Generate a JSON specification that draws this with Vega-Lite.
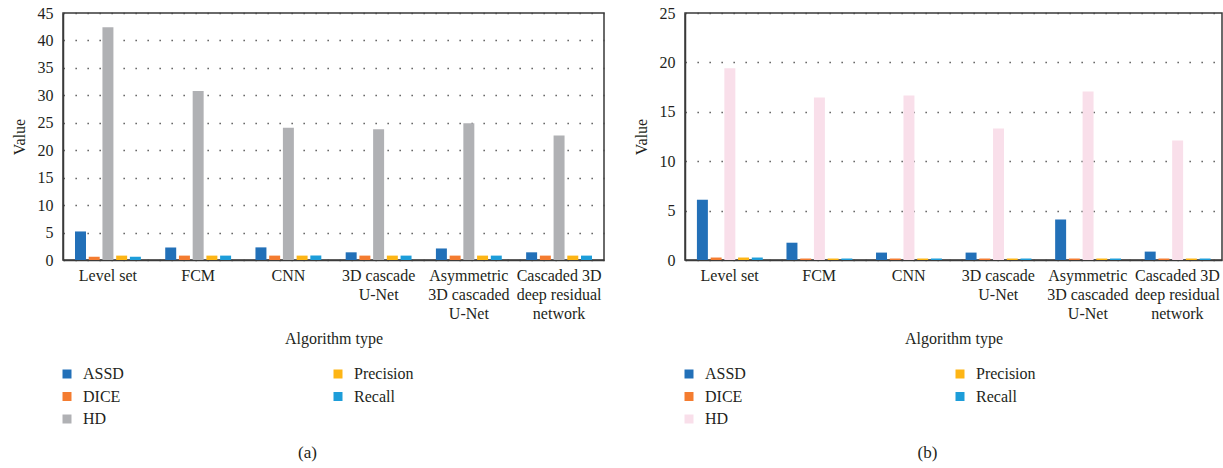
{
  "$schema": "https://vega.github.io/schema/vega-lite/v6.json",
  "autosize": {"type": "pad"},
  "padding": {"left": 10, "top": 4, "right": 0, "bottom": 0},
  "background": "white",
  "config": {
    "font": "Liberation Serif",
    "view": {"stroke": "#3a3a3a", "strokeWidth": 1.5},
    "concat": {"spacing": 27},
    "axis": {
      "labelFont": "Liberation Serif",
      "titleFont": "Liberation Serif",
      "labelFontSize": 16,
      "titleFontSize": 16,
      "labelColor": "#231f20",
      "titleColor": "#231f20",
      "titleFontWeight": "normal",
      "ticks": false,
      "domainColor": "#3a3a3a",
      "domainWidth": 1.5
    },
    "legend": {
      "labelFont": "Liberation Serif",
      "labelFontSize": 16,
      "labelColor": "#231f20"
    },
    "title": {"font": "Liberation Serif", "fontSize": 17, "fontWeight": "normal", "color": "#231f20"}
  },
  "datasets": {
    "a": [
      {"algorithm": "Level set", "metric": "ASSD", "value": 5.2},
      {"algorithm": "Level set", "metric": "DICE", "value": 0.6},
      {"algorithm": "Level set", "metric": "HD", "value": 42.4},
      {"algorithm": "Level set", "metric": "Precision", "value": 0.8},
      {"algorithm": "Level set", "metric": "Recall", "value": 0.6},
      {"algorithm": "FCM", "metric": "ASSD", "value": 2.3},
      {"algorithm": "FCM", "metric": "DICE", "value": 0.8},
      {"algorithm": "FCM", "metric": "HD", "value": 30.8},
      {"algorithm": "FCM", "metric": "Precision", "value": 0.8},
      {"algorithm": "FCM", "metric": "Recall", "value": 0.8},
      {"algorithm": "CNN", "metric": "ASSD", "value": 2.3},
      {"algorithm": "CNN", "metric": "DICE", "value": 0.8},
      {"algorithm": "CNN", "metric": "HD", "value": 24.1},
      {"algorithm": "CNN", "metric": "Precision", "value": 0.8},
      {"algorithm": "CNN", "metric": "Recall", "value": 0.8},
      {"algorithm": "3D cascade U-Net", "metric": "ASSD", "value": 1.4},
      {"algorithm": "3D cascade U-Net", "metric": "DICE", "value": 0.8},
      {"algorithm": "3D cascade U-Net", "metric": "HD", "value": 23.8},
      {"algorithm": "3D cascade U-Net", "metric": "Precision", "value": 0.8},
      {"algorithm": "3D cascade U-Net", "metric": "Recall", "value": 0.8},
      {"algorithm": "Asymmetric 3D cascaded U-Net", "metric": "ASSD", "value": 2.1},
      {"algorithm": "Asymmetric 3D cascaded U-Net", "metric": "DICE", "value": 0.8},
      {"algorithm": "Asymmetric 3D cascaded U-Net", "metric": "HD", "value": 24.9},
      {"algorithm": "Asymmetric 3D cascaded U-Net", "metric": "Precision", "value": 0.8},
      {"algorithm": "Asymmetric 3D cascaded U-Net", "metric": "Recall", "value": 0.8},
      {"algorithm": "Cascaded 3D deep residual network", "metric": "ASSD", "value": 1.4},
      {"algorithm": "Cascaded 3D deep residual network", "metric": "DICE", "value": 0.8},
      {"algorithm": "Cascaded 3D deep residual network", "metric": "HD", "value": 22.7},
      {"algorithm": "Cascaded 3D deep residual network", "metric": "Precision", "value": 0.8},
      {"algorithm": "Cascaded 3D deep residual network", "metric": "Recall", "value": 0.8}
    ],
    "b": [
      {"algorithm": "Level set", "metric": "ASSD", "value": 6.1},
      {"algorithm": "Level set", "metric": "DICE", "value": 0.25},
      {"algorithm": "Level set", "metric": "HD", "value": 19.4},
      {"algorithm": "Level set", "metric": "Precision", "value": 0.25},
      {"algorithm": "Level set", "metric": "Recall", "value": 0.25},
      {"algorithm": "FCM", "metric": "ASSD", "value": 1.75},
      {"algorithm": "FCM", "metric": "DICE", "value": 0.15},
      {"algorithm": "FCM", "metric": "HD", "value": 16.45},
      {"algorithm": "FCM", "metric": "Precision", "value": 0.15},
      {"algorithm": "FCM", "metric": "Recall", "value": 0.15},
      {"algorithm": "CNN", "metric": "ASSD", "value": 0.75},
      {"algorithm": "CNN", "metric": "DICE", "value": 0.15},
      {"algorithm": "CNN", "metric": "HD", "value": 16.65},
      {"algorithm": "CNN", "metric": "Precision", "value": 0.15},
      {"algorithm": "CNN", "metric": "Recall", "value": 0.15},
      {"algorithm": "3D cascade U-Net", "metric": "ASSD", "value": 0.75},
      {"algorithm": "3D cascade U-Net", "metric": "DICE", "value": 0.15},
      {"algorithm": "3D cascade U-Net", "metric": "HD", "value": 13.3},
      {"algorithm": "3D cascade U-Net", "metric": "Precision", "value": 0.15},
      {"algorithm": "3D cascade U-Net", "metric": "Recall", "value": 0.15},
      {"algorithm": "Asymmetric 3D cascaded U-Net", "metric": "ASSD", "value": 4.1},
      {"algorithm": "Asymmetric 3D cascaded U-Net", "metric": "DICE", "value": 0.15},
      {"algorithm": "Asymmetric 3D cascaded U-Net", "metric": "HD", "value": 17.05},
      {"algorithm": "Asymmetric 3D cascaded U-Net", "metric": "Precision", "value": 0.15},
      {"algorithm": "Asymmetric 3D cascaded U-Net", "metric": "Recall", "value": 0.15},
      {"algorithm": "Cascaded 3D deep residual network", "metric": "ASSD", "value": 0.85},
      {"algorithm": "Cascaded 3D deep residual network", "metric": "DICE", "value": 0.15},
      {"algorithm": "Cascaded 3D deep residual network", "metric": "HD", "value": 12.1},
      {"algorithm": "Cascaded 3D deep residual network", "metric": "Precision", "value": 0.15},
      {"algorithm": "Cascaded 3D deep residual network", "metric": "Recall", "value": 0.15}
    ]
  },
  "resolve": {"scale": {"color": "independent", "y": "independent"}},
  "hconcat": [
    {
      "width": 541,
      "height": 247,
      "data": {"name": "a"},
      "title": {"text": "(a)", "orient": "bottom", "anchor": "middle", "frame": "bounds", "offset": 18},
      "mark": {"type": "bar"},
      "encoding": {
        "x": {
          "field": "algorithm", "type": "nominal",
          "sort": ["Level set", "FCM", "CNN", "3D cascade U-Net", "Asymmetric 3D cascaded U-Net", "Cascaded 3D deep residual network"],
          "scale": {"paddingInner": 0.27, "paddingOuter": 0.133},
          "axis": {
            "title": "Algorithm type", "labelAngle": 0, "labelPadding": 7, "labelLineHeight": 19, "titlePadding": 9, "labelLimit": 200,
            "labelExpr": "datum.label == '3D cascade U-Net' ? ['3D cascade', 'U-Net'] : datum.label == 'Asymmetric 3D cascaded U-Net' ? ['Asymmetric', '3D cascaded', 'U-Net'] : datum.label == 'Cascaded 3D deep residual network' ? ['Cascaded 3D', 'deep residual', 'network'] : datum.label"
          }
        },
        "xOffset": {
          "field": "metric", "type": "nominal",
          "sort": ["ASSD", "DICE", "HD", "Precision", "Recall"],
          "scale": {"paddingInner": 0.2, "paddingOuter": 0}
        },
        "y": {
          "field": "value", "type": "quantitative",
          "scale": {"domain": [0, 45], "nice": false},
          "axis": {
            "title": "Value", "values": [0, 5, 10, 15, 20, 25, 30, 35, 40, 45], "labelPadding": 10, "titlePadding": 10,
            "gridColor": "#444", "gridWidth": 1.3, "gridDash": [1.3, 10.7], "domain": true
          }
        },
        "color": {
          "field": "metric", "type": "nominal",
          "scale": {"domain": ["ASSD", "DICE", "HD", "Precision", "Recall"], "range": ["#2270b8", "#f47c30", "#b0b1b4", "#fdb515", "#1d9dd9"]},
          "legend": {
            "title": null, "orient": "none", "legendX": -4, "legendY": 353, "columns": 2, "columnPadding": 206, "rowPadding": 6.5,
            "symbolType": "square", "symbolSize": 81, "symbolStrokeWidth": 0, "labelOffset": 8
          }
        }
      }
    },
    {
      "width": 537,
      "height": 247,
      "data": {"name": "b"},
      "title": {"text": "(b)", "orient": "bottom", "anchor": "middle", "frame": "bounds", "offset": 18},
      "mark": {"type": "bar"},
      "encoding": {
        "x": {
          "field": "algorithm", "type": "nominal",
          "sort": ["Level set", "FCM", "CNN", "3D cascade U-Net", "Asymmetric 3D cascaded U-Net", "Cascaded 3D deep residual network"],
          "scale": {"paddingInner": 0.27, "paddingOuter": 0.133},
          "axis": {
            "title": "Algorithm type", "labelAngle": 0, "labelPadding": 7, "labelLineHeight": 19, "titlePadding": 9, "labelLimit": 200,
            "labelExpr": "datum.label == '3D cascade U-Net' ? ['3D cascade', 'U-Net'] : datum.label == 'Asymmetric 3D cascaded U-Net' ? ['Asymmetric', '3D cascaded', 'U-Net'] : datum.label == 'Cascaded 3D deep residual network' ? ['Cascaded 3D', 'deep residual', 'network'] : datum.label"
          }
        },
        "xOffset": {
          "field": "metric", "type": "nominal",
          "sort": ["ASSD", "DICE", "HD", "Precision", "Recall"],
          "scale": {"paddingInner": 0.2, "paddingOuter": 0}
        },
        "y": {
          "field": "value", "type": "quantitative",
          "scale": {"domain": [0, 25], "nice": false},
          "axis": {
            "title": "Value", "values": [0, 5, 10, 15, 20, 25], "labelPadding": 10, "titlePadding": 10,
            "gridColor": "#444", "gridWidth": 1.3, "gridDash": [1.3, 10.7], "domain": true
          }
        },
        "color": {
          "field": "metric", "type": "nominal",
          "scale": {"domain": ["ASSD", "DICE", "HD", "Precision", "Recall"], "range": ["#2270b8", "#f47c30", "#f9dfea", "#fdb515", "#1d9dd9"]},
          "legend": {
            "title": null, "orient": "none", "legendX": -4, "legendY": 353, "columns": 2, "columnPadding": 206, "rowPadding": 6.5,
            "symbolType": "square", "symbolSize": 81, "symbolStrokeWidth": 0, "labelOffset": 8
          }
        }
      }
    }
  ]
}
